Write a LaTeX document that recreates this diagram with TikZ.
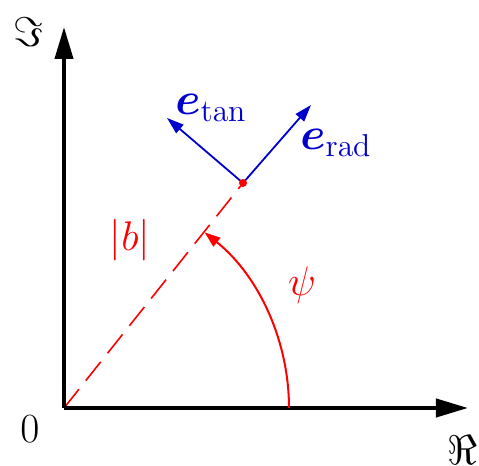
\documentclass[tikz,border=0pt]{standalone}
\usepackage{amsmath,amssymb,bm}
\usetikzlibrary{arrows.meta}
\begin{document}
\begin{tikzpicture}[x=0.5pt,y=0.5pt,
  axis/.style={line width=2pt,-{Triangle[length=16pt,width=9pt]}},
  vec/.style={blue!80!black,line width=0.9pt,-{Triangle[length=8.5pt,width=5.5pt]}},
  lbl/.style={font=\huge,inner sep=0pt},
  vlbl/.style={lbl,blue!80!black,scale=1.1}]
\useasboundingbox (0,0) rectangle (479,466);
\coordinate (O) at (64,58);
\coordinate (X) at (468,58);
\coordinate (Y) at (64,439);
\coordinate (P) at (243,283);
\coordinate (A) at (289,58);
\coordinate (R) at (311,361);
\coordinate (T) at (167,348);
% dashed radius
\draw[red,line width=0.8pt,dash pattern=on 12pt off 5.5pt] (O) -- (P);
% axes
\draw[axis] (O) -- (X);
\draw[axis] (O) -- (Y);
% angle arc
\draw[red,line width=1pt,-{Triangle[length=8pt,width=5.5pt]}] (A) arc[start angle=0,end angle=51.34,radius=112.5pt];
% unit vectors
\draw[vec] (P) -- (R);
\draw[vec] (P) -- (T);
\fill[red] (P) circle[radius=2pt];
% labels
\node[lbl] (im) at (28,434) {$\Im$};
\node[lbl] (re) at (462,16) {$\Re$};
\node[lbl] (zero) at (30,37) {$0$};
\node[lbl,red] (b) at (130,226) {$|b|$};
\node[lbl,red] (psi) at (302,181) {$\psi$};
\node[vlbl] (et) at (211,358) {$\bm{e}_{\mathrm{tan}}$};
\node[vlbl] (er) at (336,323) {$\bm{e}_{\mathrm{rad}}$};
\end{tikzpicture}
\end{document}
